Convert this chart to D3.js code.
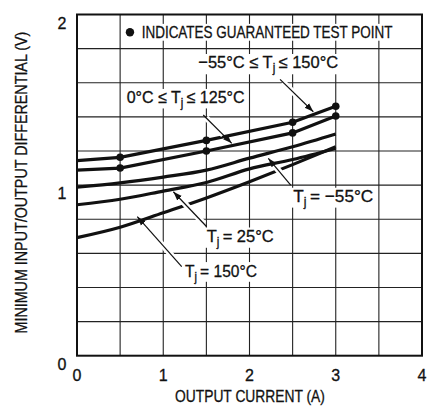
<!DOCTYPE html>
<html>
<head>
<meta charset="utf-8">
<script src="https://cdn.jsdelivr.net/npm/d3@7"></script>
<style>
  body { margin: 0; background: #fff; }
  text { font-family: "Liberation Sans Narrow", "Liberation Sans", Arial, sans-serif; fill: #111; stroke: #111; stroke-width: 0.3; }
</style>
</head>
<body>
<svg width="432" height="407"></svg>
<script>
// curves (A -> V)
const guarX = [0, 0.5, 1.5, 2.5, 3.0];
const wideRange = [1.143, 1.163, 1.262, 1.368, 1.462];   // -55°C <= Tj <= 150°C
const midRange = [1.088, 1.100, 1.200, 1.306, 1.405];    // 0°C <= Tj <= 125°C
const typX = [0, 0.5, 1.0, 1.5, 2.0, 2.5, 3.0];
const tjMinus55 = [0.988, 1.013, 1.047, 1.088, 1.158, 1.225, 1.300];
const tj25 = [0.885, 0.917, 0.965, 1.015, 1.095, 1.150, 1.215];
const tj150 = [0.692, 0.753, 0.838, 0.925, 1.020, 1.120, 1.225];
const testX = [0.5, 1.5, 2.5, 3.0];

const xTicks = [0, 1, 2, 3, 4];
const yTicks = [0, 1, 2];

const svg = d3.select('svg');
const x = d3.scaleLinear().domain([0, 4]).range([77, 422]);
const y = d3.scaleLinear().domain([0, 2]).range([355.7, 14.5]);

// grid
const g = svg.append('g');
g.selectAll('.vg').data(d3.range(0.5, 4, 0.5)).enter().append('line')
  .attr('x1', d => x(d)).attr('x2', d => x(d))
  .attr('y1', y(0)).attr('y2', y(2))
  .attr('stroke', '#222').attr('stroke-width', 1.1);
g.selectAll('.hg').data(d3.range(1, 10).map(i => i * 0.2)).enter().append('line')
  .attr('x1', x(0)).attr('x2', x(4))
  .attr('y1', d => y(d)).attr('y2', d => y(d))
  .attr('stroke', '#222').attr('stroke-width', 1.1);

// condensed text: drawn at full size then squeezed horizontally to the width seen
function narrowText(px, py, parts, len, size, rot, anchorMid, bg) {
  const grp = svg.append('g');
  const t = grp.append('text').attr('font-size', size);
  parts.forEach(p => {
    const s = t.append('tspan').text(p.t);
    if (p.sub) s.attr('font-size', 12).attr('dy', 4);
    if (p.up) s.attr('dy', -4);
  });
  const w = t.node().getComputedTextLength();
  if (anchorMid) t.attr('x', -w / 2);
  const sx = len / w;
  grp.attr('transform', 'translate(' + px + ',' + py + ')' + (rot ? ' rotate(' + rot + ')' : '') + ' scale(' + sx + ',1)');
  if (bg) {
    const b = t.node().getBBox();
    grp.insert('rect', 'text')
      .attr('x', b.x - 2 / sx).attr('y', b.y + 1).attr('width', b.width + 4 / sx).attr('height', b.height - 2)
      .attr('fill', '#fff');
  }
  return grp;
}

// legend
narrowText(x(0.75), y(1.86), [{t: 'INDICATES GUARANTEED TEST POINT'}], 251, 17, 0, false, true);
svg.append('circle').attr('cx', x(0.614)).attr('cy', y(1.896)).attr('r', 4.2).attr('fill', '#111');

// curve labels
narrowText(x(1.406), y(1.685), [{t: '\u221255\u00B0C \u2264 T'}, {t: 'j', sub: true}, {t: '\u2009\u2264 150\u00B0C', up: true}], 140, 17, 0, false, true);
narrowText(x(0.576), y(1.479), [{t: '0\u00B0C \u2264 T'}, {t: 'j', sub: true}, {t: '\u2009\u2264 125\u00B0C', up: true}], 118, 17, 0, false, true);
narrowText(x(2.508), y(0.903), [{t: 'T'}, {t: 'j', sub: true}, {t: '\u2009= \u221255\u00B0C', up: true}], 80, 17, 0, false, true);
narrowText(x(1.504), y(0.668), [{t: 'T'}, {t: 'j', sub: true}, {t: '\u2009= 25\u00B0C', up: true}], 67, 17, 0, false, true);
narrowText(x(1.252), y(0.463), [{t: 'T'}, {t: 'j', sub: true}, {t: '\u2009= 150\u00B0C', up: true}], 72, 17, 0, false, true);

// curves
const lineGen = d3.line().x(d => x(d[0])).y(d => y(d[1]));
const smooth = d3.line().x(d => x(d[0])).y(d => y(d[1])).curve(d3.curveMonotoneX);
const curves = [
  {pts: d3.zip(guarX, wideRange), gen: lineGen},
  {pts: d3.zip(guarX, midRange), gen: lineGen},
  {pts: d3.zip(typX, tjMinus55), gen: smooth},
  {pts: d3.zip(typX, tj25), gen: smooth},
  {pts: d3.zip(typX, tj150), gen: smooth}
];
svg.selectAll('.curve').data(curves).enter().append('path')
  .attr('d', d => d.gen(d.pts))
  .attr('fill', 'none').attr('stroke', '#111').attr('stroke-width', 3.2);

// guaranteed test points
const dots = testX.map((v, i) => [v, wideRange[i + 1]])
  .concat(testX.map((v, i) => [v, midRange[i + 1]]));
svg.selectAll('.dot').data(dots).enter().append('circle')
  .attr('cx', d => x(d[0])).attr('cy', d => y(d[1])).attr('r', 3.8).attr('fill', '#111');

// arrows (label -> curve)
const arrows = [
  [[2.354, 1.62], [2.74, 1.43]],
  [[1.464, 1.411], [1.794, 1.245]],
  [[2.478, 1.0], [2.218, 1.157]],
  [[1.504, 0.756], [1.117, 0.961]],
  [[1.214, 0.522], [0.699, 0.815]]
];
svg.append('defs').append('marker')
  .attr('id', 'head').attr('viewBox', '0 0 10 10')
  .attr('refX', 10).attr('refY', 5)
  .attr('markerWidth', 9).attr('markerHeight', 9)
  .attr('markerUnits', 'userSpaceOnUse')
  .attr('orient', 'auto')
  .append('path').attr('d', 'M0,1.5L10,5L0,8.5Z').attr('fill', '#111');
const ag = svg.append('g');
ag.selectAll('.halo').data(arrows).enter().append('line')
  .attr('x1', d => x(d[0][0])).attr('y1', d => y(d[0][1]))
  .attr('x2', d => x(d[1][0])).attr('y2', d => y(d[1][1]))
  .attr('stroke', '#fff').attr('stroke-width', 6)
  .attr('stroke-dasharray', d => {
    const L = Math.hypot(x(d[1][0]) - x(d[0][0]), y(d[1][1]) - y(d[0][1]));
    return '0,4,' + (L - 16) + ',' + L;
  });
ag.selectAll('.arrow').data(arrows).enter().append('line')
  .attr('x1', d => x(d[0][0])).attr('y1', d => y(d[0][1]))
  .attr('x2', d => x(d[1][0])).attr('y2', d => y(d[1][1]))
  .attr('stroke', '#111').attr('stroke-width', 1.2)
  .attr('marker-end', 'url(#head)');

// frame
svg.append('rect')
  .attr('x', x(0)).attr('y', y(2))
  .attr('width', x(4) - x(0)).attr('height', y(0) - y(2))
  .attr('fill', 'none').attr('stroke', '#111').attr('stroke-width', 2);

// tick labels
svg.selectAll('.xt').data(xTicks).enter().append('text')
  .attr('x', d => x(d)).attr('y', 381)
  .attr('text-anchor', 'middle').attr('font-size', 16)
  .text(d => d);
svg.selectAll('.yt').data(yTicks).enter().append('text')
  .attr('x', 62).attr('y', d => y(d) + 14)
  .attr('text-anchor', 'middle').attr('font-size', 16)
  .text(d => d);

// axis titles
narrowText(250, 402, [{t: 'OUTPUT CURRENT (A)'}], 150, 17, 0, true, false);
narrowText(27, 182.5, [{t: 'MINIMUM INPUT/OUTPUT DIFFERENTIAL (V)'}], 302, 17, -90, true, false);
</script>
</body>
</html>
